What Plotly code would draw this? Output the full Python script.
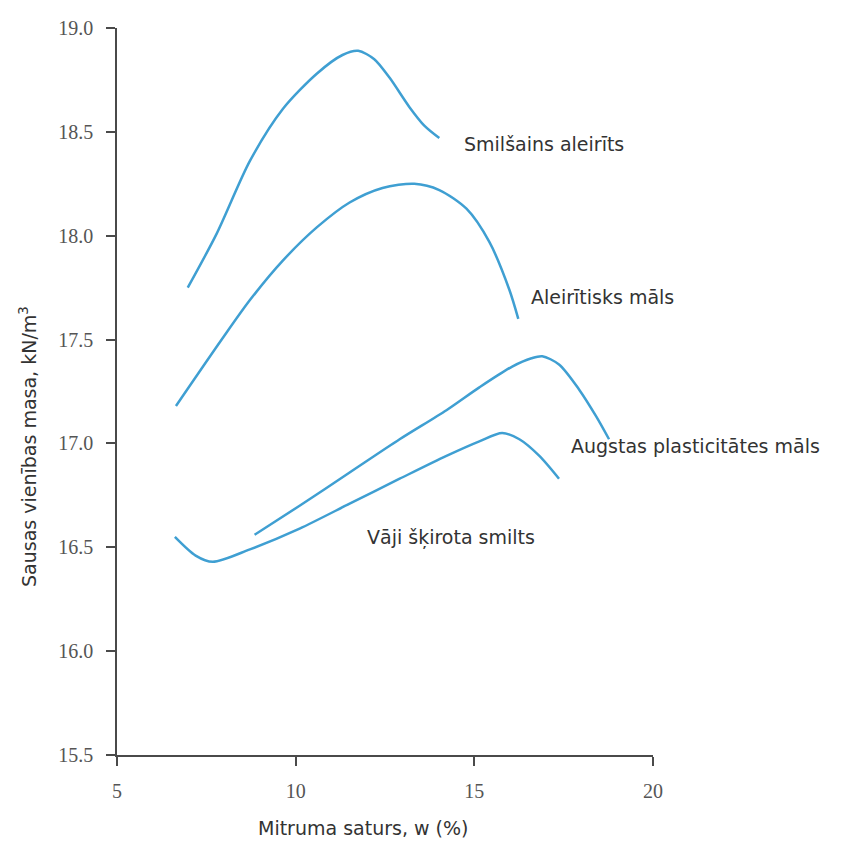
import plotly.graph_objects as go

# Compaction curves: moisture content w (%) vs dry unit weight (kN/m3)
sandy_silt_w = [6.98, 7.79, 8.72, 9.64, 10.59, 11.31, 11.75, 12.2, 12.63, 13.18, 13.6, 14.02]
sandy_silt_g = [17.75, 18.01, 18.36, 18.61, 18.78, 18.87, 18.89, 18.85, 18.76, 18.62, 18.53, 18.47]

silty_clay_w = [6.65, 7.93, 8.72, 9.64, 10.59, 11.51, 12.43, 13.32, 14.02, 14.78, 15.42, 15.98, 16.23]
silty_clay_g = [17.18, 17.50, 17.69, 17.88, 18.04, 18.16, 18.23, 18.25, 18.22, 18.13, 17.97, 17.74, 17.60]

high_plast_w = [8.85, 10.11, 11.51, 12.91, 14.22, 15.14, 16.06, 16.6, 16.9, 17.37, 17.93, 18.41, 18.77]
high_plast_g = [16.56, 16.70, 16.86, 17.02, 17.16, 17.27, 17.37, 17.41, 17.42, 17.38, 17.26, 17.13, 17.02]

poor_sand_w = [6.62, 7.2, 7.68, 8.72, 10.11, 11.51, 12.91, 14.22, 15.14, 15.78, 16.26, 16.82, 17.37]
poor_sand_g = [16.55, 16.46, 16.43, 16.49, 16.59, 16.71, 16.83, 16.94, 17.01, 17.05, 17.02, 16.94, 16.83]

curve_names = ["Smilšains aleirīts", "Aleirītisks māls",
               "Augstas plasticitātes māls", "Vāji šķirota smilts"]

x_ticks = [5, 10, 15, 20]
y_ticks = [15.5, 16.0, 16.5, 17.0, 17.5, 18.0, 18.5, 19.0]

LINE = "#3f9fd2"
AXIS = "#4a4a4a"
SANS = "DejaVu Sans, Verdana, sans-serif"
SERIF = "Liberation Serif, Times New Roman, serif"

fig = go.Figure()
series = [(sandy_silt_w, sandy_silt_g), (silty_clay_w, silty_clay_g),
          (high_plast_w, high_plast_g), (poor_sand_w, poor_sand_g)]
for (w, g), name in zip(series, curve_names):
    fig.add_trace(go.Scatter(x=w, y=g, mode="lines", name=name,
                             line=dict(color=LINE, width=2.5, shape="spline", smoothing=0.8),
                             showlegend=False, hoverinfo="skip"))

# Curve labels placed beside the curve ends
label_pos = [(14.72, 18.44), (16.59, 17.705), (17.71, 16.99), (12.01, 16.545)]
for (lx, ly), name in zip(label_pos, curve_names):
    fig.add_annotation(x=lx, y=ly, text=name, showarrow=False, xanchor="left",
                       xshift=-2, font=dict(family=SANS, size=19, color="#333333"))

fig.update_layout(
    width=846, height=841,
    margin=dict(l=117, r=193, t=28, b=86),
    plot_bgcolor="white", paper_bgcolor="white",
    xaxis=dict(range=[5, 20], tickvals=x_ticks, ticktext=[str(v) for v in x_ticks],
               showgrid=False, zeroline=False, showline=True, linecolor=AXIS, linewidth=1.5,
               ticks="outside", ticklen=9, tickcolor=AXIS, tickwidth=1.5,
               ticklabelstandoff=8,
               tickfont=dict(family=SERIF, size=20, color="#555555")),
    yaxis=dict(range=[15.5, 19.0], tickvals=y_ticks, ticktext=[f"{v:.1f}" for v in y_ticks],
               showgrid=False, zeroline=False, showline=True, linecolor=AXIS, linewidth=1.5,
               ticks="outside", ticklen=9, tickcolor=AXIS, tickwidth=1.5,
               ticklabelstandoff=9,
               tickfont=dict(family=SERIF, size=20, color="#555555")),
)

# Axis titles
fig.add_annotation(xref="paper", yref="paper", x=(363 - 117) / 536, y=-(828 - 755) / 727,
                   xanchor="center", yanchor="middle",
                   text="Mitruma saturs, w (%)", showarrow=False,
                   font=dict(family=SANS, size=19, color="#333333"))
fig.add_annotation(xref="paper", yref="paper", x=-(117 - 28) / 536, y=(755 - 447) / 727,
                   xanchor="center", yanchor="middle",
                   text="Sausas vienības masa, kN/m<sup>3</sup>", showarrow=False, textangle=-90,
                   font=dict(family=SANS, size=19, color="#333333"))

fig.write_html("out.html")
